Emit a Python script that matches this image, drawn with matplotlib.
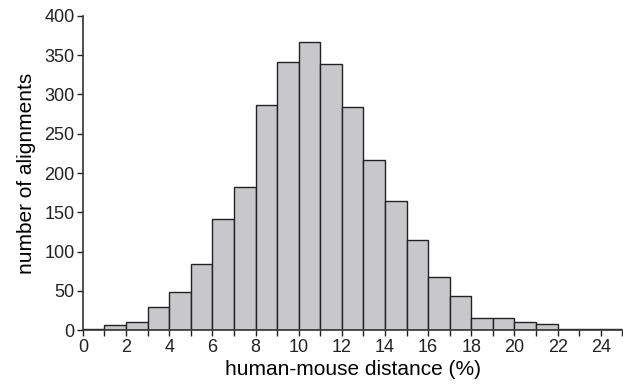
import numpy as np
import matplotlib.pyplot as plt

# histogram of human-mouse distances, 1% bins
bin_edges = np.arange(0, 26, 1)
counts = [2, 6, 11, 30, 49, 84, 142, 182, 287, 341, 367, 339, 284,
          216, 164, 115, 68, 44, 16, 16, 11, 8, 2, 2, 2]
x_ticks = list(range(0, 26, 2))
y_ticks = list(range(0, 401, 50))

plt.rcParams['font.family'] = ['Liberation Sans', 'DejaVu Sans']

fig = plt.figure(figsize=(6.23, 3.88), dpi=100)
ax = fig.add_axes([0.133, 0.149, 0.866, 0.81])

ax.bar(bin_edges[:-1], counts, width=1, align='edge',
       color='#c8c8ca', edgecolor='#222222', linewidth=1.0)

ax.set_xlim(0, 25)
ax.set_ylim(0, 400)
ax.set_xticks(x_ticks)
ax.set_xticks(range(0, 26), minor=True)
ax.set_yticks(y_ticks)
ax.tick_params(axis='both', labelsize=13, colors='#222222', length=4, width=1, pad=2)
ax.tick_params(axis='x', which='minor', length=4, width=1, color='#222222')

for side in ['top', 'right']:
    ax.spines[side].set_visible(False)
for side in ['left', 'bottom']:
    ax.spines[side].set_color('#333333')
    ax.spines[side].set_linewidth(1.2)

ax.set_xlabel('human-mouse distance (%)', fontsize=15, labelpad=3)
ax.set_ylabel('number of alignments', fontsize=15, labelpad=6)

fig.savefig('out.png', dpi=100)
